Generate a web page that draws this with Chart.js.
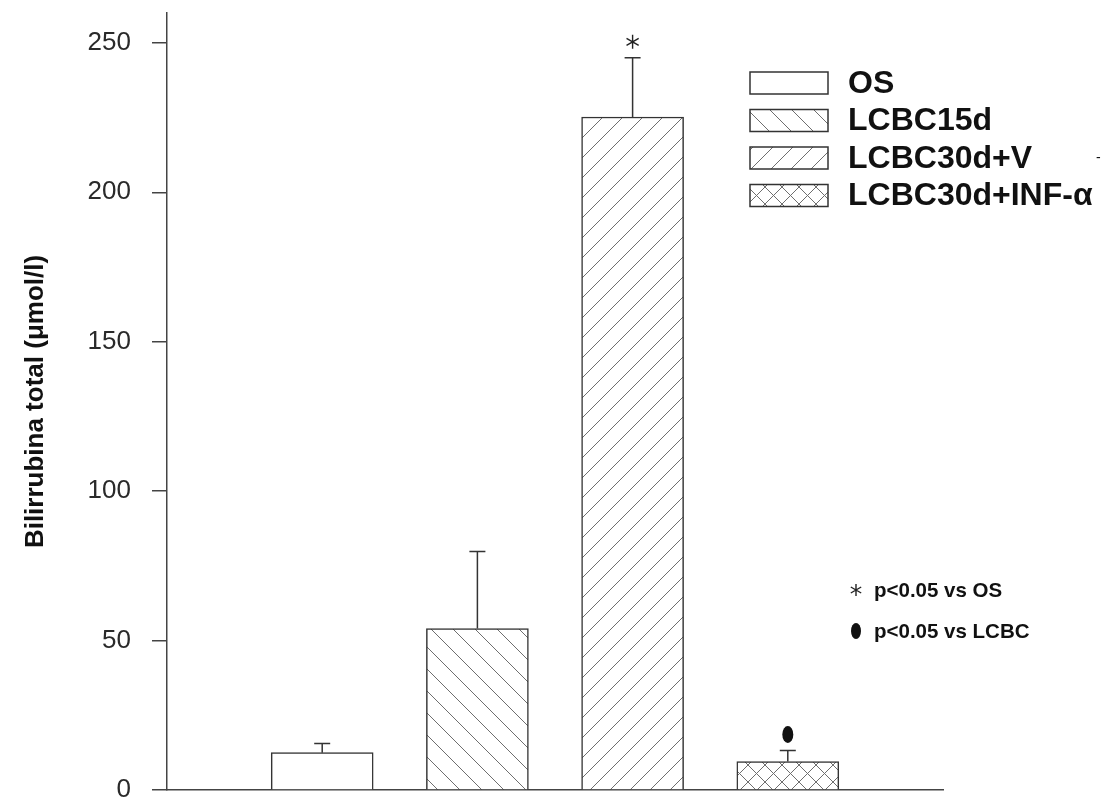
<!DOCTYPE html>
<html>
<head>
<meta charset="utf-8">
<script src="https://cdn.jsdelivr.net/npm/chart.js@4.4.0/dist/chart.umd.min.js"></script>
<style>
  html, body { margin: 0; padding: 0; background: #fff; }
</style>
</head>
<body>
<canvas id="chart" width="1112" height="800"></canvas>
<script>
// groups, means and upper error (SEM) in µmol/l
const groups = ["OS", "LCBC15d", "LCBC30d+V", "LCBC30d+INF-α"];
const means = [12.5, 54, 225.2, 9.5];
const sem = [3.1, 25.8, 19.8, 3.7];
const sigMarks = ["", "", "*", "dot"];
const yTicks = [0, 50, 100, 150, 200, 250];
const notes = [["*", "p<0.05 vs OS"], ["dot", "p<0.05 vs LCBC"]];

const canvas = document.getElementById("chart");
const ctx0 = canvas.getContext("2d");

// hatch fills: "back" = \\\ , "fwd" = /// , "cross" = both
function hatch(kind, size) {
  const c = document.createElement("canvas");
  c.width = c.height = size;
  const g = c.getContext("2d");
  g.fillStyle = "#fff";
  g.fillRect(0, 0, size, size);
  g.strokeStyle = "#6e6e6e";
  g.lineWidth = 1;
  g.beginPath();
  if (kind == "back" || kind == "cross") {
    g.moveTo(-1, -1); g.lineTo(size + 1, size + 1);
    g.moveTo(size - 1, -1); g.lineTo(size + 1, 1);
    g.moveTo(-1, size - 1); g.lineTo(1, size + 1);
  }
  if (kind == "fwd" || kind == "cross") {
    g.moveTo(-1, size + 1); g.lineTo(size + 1, -1);
    g.moveTo(-1, 1); g.lineTo(1, -1);
    g.moveTo(size - 1, size + 1); g.lineTo(size + 1, size - 1);
  }
  g.stroke();
  return ctx0.createPattern(c, "repeat");
}

const fills = ["#ffffff", hatch("back", 22), hatch("fwd", 20), hatch("cross", 17)];

// empty slots at both ends so the axis runs past the outer bars
const xLabels = ["", ...groups, ""];
const barData = [null, ...means, null];
const barFills = ["#fff", ...fills, "#fff"];

function drawMark(ctx, kind, x, y, big) {
  ctx.save();
  ctx.fillStyle = "#111";
  ctx.strokeStyle = "#222";
  if (kind == "*") {
    const r = big ? 7 : 6;
    ctx.lineWidth = 1.4;
    ctx.beginPath();
    for (let a = 0; a < 3; a++) {
      const t = Math.PI / 2 + a * Math.PI / 3;
      ctx.moveTo(x - r * Math.cos(t), y - r * Math.sin(t));
      ctx.lineTo(x + r * Math.cos(t), y + r * Math.sin(t));
    }
    ctx.stroke();
  } else if (kind == "dot") {
    ctx.beginPath();
    ctx.ellipse(x, y, big ? 5.5 : 5, big ? 8.5 : 8, 0, 0, Math.PI * 2);
    ctx.fill();
  }
  ctx.restore();
}

const overlay = {
  id: "overlay",
  afterDatasetsDraw(chart) {
    const { ctx, scales: { x, y } } = chart;
    ctx.save();
    // upper error bars with caps
    ctx.strokeStyle = "#333";
    ctx.lineWidth = 1.5;
    means.forEach((m, i) => {
      const px = x.getPixelForValue(i + 1);
      const base = y.getPixelForValue(m);
      const top = y.getPixelForValue(m + sem[i]);
      ctx.beginPath();
      ctx.moveTo(px, base);
      ctx.lineTo(px, top);
      ctx.moveTo(px - 8, top);
      ctx.lineTo(px + 8, top);
      ctx.stroke();
      if (sigMarks[i]) drawMark(ctx, sigMarks[i], px, top - 16, true);
    });

    // legend
    const lx = 750, ly = 83, step = 37.5;
    groups.forEach((g, i) => {
      const cy = ly + i * step;
      ctx.fillStyle = fills[i];
      ctx.fillRect(lx, cy - 11, 78, 22);
      ctx.strokeStyle = "#333";
      ctx.lineWidth = 1.5;
      ctx.strokeRect(lx, cy - 11, 78, 22);
      ctx.fillStyle = "#111";
      ctx.font = "bold 32px 'Liberation Sans', Arial, sans-serif";
      ctx.textBaseline = "middle";
      ctx.textAlign = "left";
      ctx.fillText(g, 848, cy + 1);
    });
    ctx.font = "14px 'Liberation Sans', Arial, sans-serif";
    ctx.fillText("-", 1096, ly + 2 * step);

    // significance key
    notes.forEach((n, i) => {
      const cy = 590 + i * 41;
      drawMark(ctx, n[0], 856, cy, false);
      ctx.fillStyle = "#111";
      ctx.font = "bold 20.5px 'Liberation Sans', Arial, sans-serif";
      ctx.textBaseline = "middle";
      ctx.fillText(n[1], 874, cy + 1);
    });
    ctx.restore();
  }
};

Chart.defaults.font.family = "'Liberation Sans', Arial, sans-serif";

new Chart(canvas, {
  type: "bar",
  data: {
    labels: xLabels,
    datasets: [{
      data: barData,
      backgroundColor: barFills,
      borderColor: "#333",
      borderWidth: 1.5,
      barThickness: 102,
    }],
  },
  options: {
    responsive: false,
    animation: false,
    devicePixelRatio: 1,
    layout: { padding: { left: 0, right: 169, top: 13, bottom: 10 } },
    plugins: { legend: { display: false }, tooltip: { enabled: false } },
    scales: {
      x: {
        offset: false,
        ticks: { display: false },
        grid: { display: false },
        border: { color: "#444", width: 1.5 },
        afterFit: (s) => { s.height = 0; s.paddingLeft = 0; s.paddingRight = 0; },
      },
      y: {
        min: 0,
        max: 260,
        afterBuildTicks: (s) => { s.ticks = yTicks.map((v) => ({ value: v })); },
        afterFit: (s) => { s.width = 167; s.paddingTop = 0; s.paddingBottom = 0; },
        ticks: { color: "#2a2a2a", font: { size: 26 }, padding: 21 },
        grid: { drawOnChartArea: false, tickLength: 15, color: "#444", lineWidth: 1.5 },
        border: { color: "#444", width: 1.5 },
        title: {
          display: true,
          text: "Bilirrubina total (μmol/l)",
          color: "#111",
          font: { size: 26, weight: "bold" },
          padding: { top: 20, bottom: 0 },
        },
      },
    },
  },
  plugins: [overlay],
});
</script>
</body>
</html>
